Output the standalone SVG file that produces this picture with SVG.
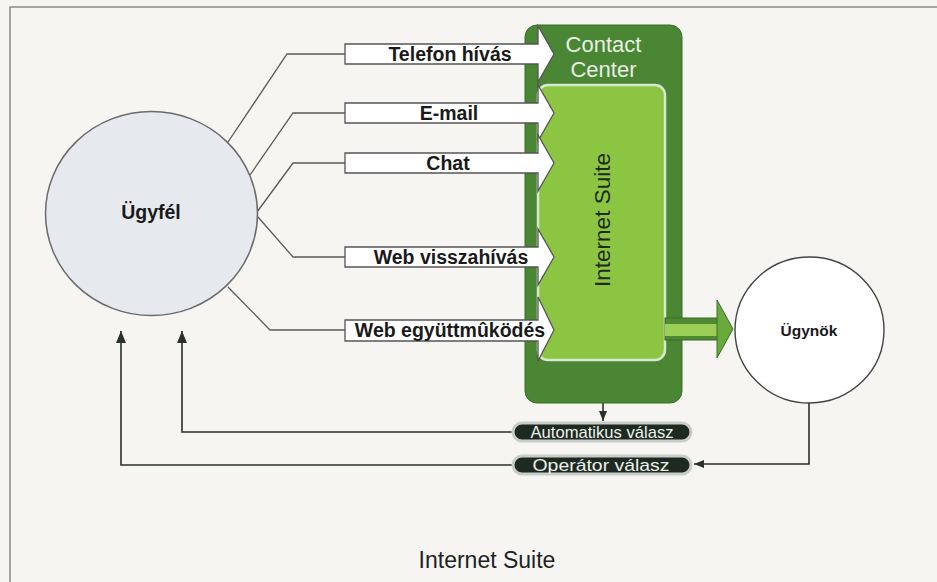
<svg xmlns="http://www.w3.org/2000/svg" width="937" height="582" viewBox="0 0 937 582">
<defs>
<style>
.lbl{font-family:"Liberation Sans",Arial,sans-serif;font-weight:bold;font-size:19.5px;fill:#1a1a1a;text-anchor:middle}
.ch{fill:#ffffff;stroke:#555;stroke-width:1.3}
.ln{fill:none;stroke:#5a5a5a;stroke-width:1.3}
.rt{fill:none;stroke:#2b302b;stroke-width:1.6}
.pill{fill:#1e2a21;stroke:#c9cdc9;stroke-width:3}
.pt{font-family:"Liberation Sans",Arial,sans-serif;font-size:17px;fill:#eef0ec;text-anchor:middle}
</style>
<marker id="ah" viewBox="0 0 12 10" refX="12" refY="5" markerWidth="12" markerHeight="10" orient="auto" markerUnits="userSpaceOnUse"><path d="M0,0 L12,5 L0,10 Z" fill="#2b302b"/></marker>
<marker id="ahs" viewBox="0 0 10 8" refX="10" refY="4" markerWidth="10" markerHeight="8" orient="auto" markerUnits="userSpaceOnUse"><path d="M0,0 L10,4 L0,8 Z" fill="#2b302b"/></marker>
</defs>
<rect x="0" y="0" width="937" height="582" fill="#f6f5f2"/>
<path d="M10,582 V7 H937" fill="none" stroke="#8a8a8a" stroke-width="1.5"/>

<g id="connectors">
<path class="ln" d="M228,142 L287,54 H345"/>
<path class="ln" d="M250,175 L293,113 H345"/>
<path class="ln" d="M257,212 L293,163 H345"/>
<path class="ln" d="M258,217 L293,257 H345"/>
<path class="ln" d="M228,287 L270,330 H345"/>
<path class="rt" d="M513,432 H182 V331" marker-end="url(#ah)"/>
<path class="rt" d="M513,465 H121 V331" marker-end="url(#ah)"/>
<path class="rt" d="M603,403 V421" stroke-width="1.2" marker-end="url(#ahs)"/>
<path class="rt" d="M809,403 V464 H694" stroke-width="1.2" marker-end="url(#ahs)"/>
</g>

<g id="ugyfel">
<ellipse cx="151.5" cy="213.5" rx="106" ry="102" fill="#e6e9ee" stroke="#6a6a6a" stroke-width="1.5"/>
<text class="lbl" x="151" y="219">Ügyfél</text>
</g>

<g id="contact-center">
<rect x="525" y="25" width="157" height="378" rx="12" fill="#4a8634" stroke="#3a6c28" stroke-width="1"/>
<rect x="538" y="85" width="127" height="275" rx="10" fill="#8cc542" stroke="#d6e7d2" stroke-width="2.5"/>
<text x="603.5" y="52" font-family="'Liberation Sans',Arial,sans-serif" font-size="22" fill="#e8efe4" text-anchor="middle">Contact</text>
<text x="603.5" y="77" font-family="'Liberation Sans',Arial,sans-serif" font-size="22" fill="#e8efe4" text-anchor="middle">Center</text>
<text transform="translate(610,220) rotate(-90)" font-family="'Liberation Sans',Arial,sans-serif" font-size="22.5" fill="#1f2a18" text-anchor="middle">Internet Suite</text>
</g>

<g id="ch-telefon">
<path class="ch" d="M345,44 H538 V26 L554,54 L538,82 V64 H345 Z"/>
<text class="lbl" x="450" y="61">Telefon hívás</text>
</g>
<g id="ch-email">
<path class="ch" d="M345,103 H538 V85 L554,113 L538,141 V123 H345 Z"/>
<text class="lbl" x="449" y="120">E-mail</text>
</g>
<g id="ch-chat">
<path class="ch" d="M345,153 H538 V135 L554,163 L538,191 V173 H345 Z"/>
<text class="lbl" x="448" y="170">Chat</text>
</g>
<g id="ch-webvissza">
<path class="ch" d="M345,247 H538 V229 L554,257 L538,285 V267 H345 Z"/>
<text class="lbl" x="451" y="264">Web visszahívás</text>
</g>
<g id="ch-webegyutt">
<path class="ch" d="M345,320 H538 V297 L554,330 L538,361 V341 H345 Z"/>
<text class="lbl" x="450" y="337">Web együttmûködés</text>
</g>

<g id="green-arrow">
<rect x="665" y="318" width="53" height="22" fill="#4f8a32" stroke="#3a6a25" stroke-width="1"/>
<rect x="665" y="324" width="52" height="12" fill="#9ccf55"/>
<polygon points="717,300 733,329 717,358" fill="#6aaa3c" stroke="#3e6e28" stroke-width="1"/>
</g>

<g id="ugynok">
<ellipse cx="809.5" cy="330" rx="74.5" ry="73" fill="#ffffff" stroke="#444" stroke-width="1.4"/>
<text x="809" y="336" font-family="'Liberation Sans',Arial,sans-serif" font-weight="bold" font-size="15.5" fill="#1a1a1a" text-anchor="middle">Ügynök</text>
</g>

<g id="auto-valasz">
<rect class="pill" x="513" y="423" width="178" height="18" rx="9"/>
<text class="pt" x="602" y="438" textLength="143" lengthAdjust="spacingAndGlyphs">Automatikus válasz</text>
</g>
<g id="operator-valasz">
<rect class="pill" x="513" y="456" width="178" height="18" rx="9"/>
<text class="pt" x="601" y="471" textLength="137" lengthAdjust="spacingAndGlyphs">Operátor válasz</text>
</g>

<text x="487" y="568" font-family="'Liberation Sans',Arial,sans-serif" font-size="23" fill="#222" text-anchor="middle">Internet Suite</text>
</svg>
